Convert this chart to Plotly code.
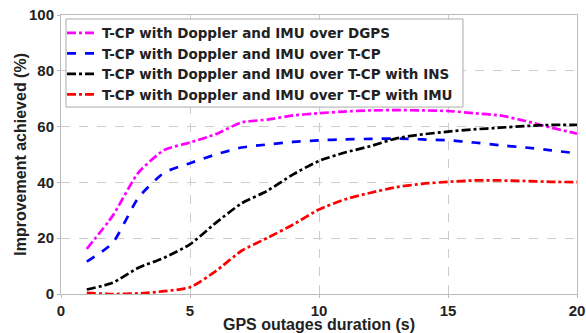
import plotly.graph_objects as go

x_vals = list(range(1, 21))
dgps = [16.2, 28, 43.5, 51.6, 54.3, 57.3, 61.5, 62.5, 64, 64.8, 65.4, 65.8, 65.9, 65.8, 65.6, 64.8, 64, 62, 59.6, 57.5]
tcp = [11.6, 18.3, 34.5, 43.5, 46.9, 50, 52.5, 53.6, 54.5, 55.1, 55.4, 55.6, 55.7, 55.4, 55.1, 54.3, 53.3, 52.5, 51.5, 50.4]
tcp_ins = [1.6, 4, 9.4, 13, 17.8, 25.5, 32.5, 37, 42.9, 47.7, 50.7, 53, 55.8, 57.2, 58.2, 59, 59.6, 60.2, 60.6, 60.6]
tcp_imu = [0.4, 0, 0.2, 1, 2.4, 8.2, 15.5, 20.1, 24.9, 30.3, 33.9, 36.3, 38.3, 39.5, 40.2, 40.7, 40.7, 40.5, 40.2, 40.1]

names = [
    "T-CP with Doppler and IMU over DGPS",
    "T-CP with Doppler and IMU over T-CP",
    "T-CP with Doppler and IMU over T-CP with INS",
    "T-CP with Doppler and IMU over T-CP with IMU",
]
colors = ["#ff00ff", "#0000ff", "#000000", "#ff0000"]
dashes = ["dashdot", "dash", "dashdot", "dashdot"]
series = [dgps, tcp, tcp_ins, tcp_imu]

x_ticks = [0, 5, 10, 15, 20]
y_ticks = [0, 20, 40, 60, 80, 100]
x_title = "GPS outages duration (s)"
y_title = "Improvement achieved (%)"

fig = go.Figure()
for nm, ys, c, d in zip(names, series, colors, dashes):
    fig.add_trace(go.Scatter(x=x_vals, y=ys, mode="lines", name=nm,
                             line=dict(color=c, width=2.7, dash=d, shape="spline", smoothing=0.6)))

font_family = "Liberation Sans, Arial, sans-serif"
title_font = dict(family=font_family, size=16, color="#222222", weight="bold")
axis_common = dict(
    showline=True, linecolor="#bbbbbb", linewidth=1, mirror=True,
    showgrid=True, gridcolor="#cccccc", griddash="dash", gridwidth=1,
    zeroline=False, automargin=False,
    ticks="outside", ticklen=3, tickcolor="#bbbbbb",
    tickfont=dict(family=font_family, size=15, color="#222222", weight="bold"),
)
fig.update_xaxes(range=[0, 20], tickvals=x_ticks, **axis_common)
fig.update_yaxes(range=[0, 100], tickvals=y_ticks, **axis_common)

fig.add_annotation(text=x_title, xref="paper", yref="paper", x=0.5, y=-0.11,
                   xanchor="center", yanchor="middle", showarrow=False, font=title_font)
fig.add_annotation(text=y_title, xref="paper", yref="paper", x=-0.079, y=0.5,
                   xanchor="center", yanchor="middle", textangle=-90, showarrow=False,
                   font=title_font)

# legend frame (opaque box behind legend entries)
fig.add_shape(type="rect", xref="paper", yref="paper", x0=0.0097, x1=0.779, y0=0.670, y1=0.9857,
              line=dict(color="#aaaaaa", width=1), fillcolor="white", layer="above")

fig.update_layout(
    width=586, height=333,
    margin=dict(l=61, r=9, t=15, b=39),
    plot_bgcolor="white", paper_bgcolor="white",
    legend=dict(x=0.002, y=0.991, xanchor="left", yanchor="top",
                bgcolor="rgba(0,0,0,0)", borderwidth=0,
                font=dict(family="DejaVu Sans, sans-serif", size=13.5, color="#222222", weight="bold"),
                tracegroupgap=0, itemwidth=30),
    showlegend=True,
)

fig.write_html("out.html", config={"displayModeBar": False},
               post_script="document.body.style.margin='0';document.body.style.overflow='hidden';")
